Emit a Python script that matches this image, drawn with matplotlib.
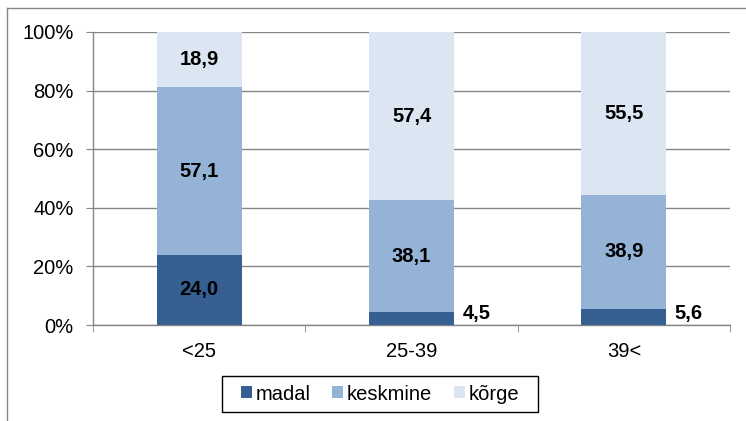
import numpy as np
import matplotlib
matplotlib.use("Agg")
import matplotlib.pyplot as plt
from matplotlib.lines import Line2D
from matplotlib.patches import Rectangle
from matplotlib.ticker import FixedLocator, PercentFormatter

plt.rcParams["font.family"] = ["Liberation Sans", "DejaVu Sans"]

CATEGORIES = ["<25", "25-39", "39<"]
SERIES = ["madal", "keskmine", "kõrge"]
MADAL = [24.0, 4.5, 5.6]
KESKMINE = [57.1, 38.1, 38.9]
KORGE = [18.9, 57.4, 55.5]

COLORS = ["#376092", "#95B3D7", "#DCE6F2"]
GRID = "#868686"
FS = 14.5
W, H = 746, 421


def fmt(v):
    return f"{v:.1f}".replace(".", ",")


def main():
    fig = plt.figure(figsize=(W / 100, H / 100), dpi=100)
    ax = fig.add_axes([0.1247, 0.228, 0.8539, 0.696])

    data = [MADAL, KESKMINE, KORGE]
    x = np.arange(len(CATEGORIES))
    bar_w = 0.4
    bottom = np.zeros(len(CATEGORIES))
    for vals, col, name in zip(data, COLORS, SERIES):
        vals = np.array(vals)
        ax.bar(x, vals, bar_w, bottom=bottom, color=col, label=name, zorder=3)
        for i, v in enumerate(vals):
            if v < 10:
                # small segments get label right of the bar
                ax.text(x[i] + bar_w / 2 + 0.04, bottom[i] + 4.0, fmt(v),
                        ha="left", va="center", fontsize=FS, fontweight="bold")
            else:
                ax.text(x[i], bottom[i] + v / 2, fmt(v), ha="center",
                        va="center", fontsize=FS, fontweight="bold", zorder=4)
        bottom += vals

    ax.set_xlim(-0.5, len(CATEGORIES) - 0.5)
    ax.set_ylim(0, 100)
    ax.set_yticks(np.arange(0, 101, 20))
    ax.yaxis.set_major_formatter(PercentFormatter(decimals=0))
    ax.grid(axis="y", color=GRID, linewidth=1, zorder=0)

    ax.set_xticks(x)
    ax.set_xticklabels(CATEGORIES)
    ax.xaxis.set_minor_locator(FixedLocator(np.arange(-0.5, len(CATEGORIES), 1.0)))
    ax.tick_params(axis="x", which="major", length=0, pad=12, labelsize=FS)
    ax.tick_params(axis="x", which="minor", length=5, color=GRID)
    ax.tick_params(axis="y", length=5, color=GRID, labelsize=FS, pad=9)

    for side in ["top", "right"]:
        ax.spines[side].set_visible(False)
    for side in ["left", "bottom"]:
        ax.spines[side].set_color(GRID)
        ax.spines[side].set_linewidth(1)

    # legend without its own frame; box drawn separately for Excel-like padding
    fig.legend(loc="center", bbox_to_anchor=(380 / W, 1 - 394 / H),
               ncol=3, frameon=False, fontsize=FS,
               handlelength=0.55, handleheight=0.55, handletextpad=0.2,
               columnspacing=1.05, borderpad=0, borderaxespad=0)
    fig.add_artist(Rectangle((222 / W, 1 - 412 / H), 316 / W, 36 / H,
                             transform=fig.transFigure, fill=False,
                             edgecolor="black", lw=1))

    # outer chart frame (left and top edges visible)
    fig.add_artist(Line2D([7 / W, 7 / W], [0, 1 - 8 / H],
                          transform=fig.transFigure, color=GRID, lw=1))
    fig.add_artist(Line2D([7 / W, 1], [1 - 8 / H, 1 - 8 / H],
                          transform=fig.transFigure, color=GRID, lw=1))

    fig.savefig("out.png", dpi=100)
    plt.close(fig)


if __name__ == "__main__":
    main()
